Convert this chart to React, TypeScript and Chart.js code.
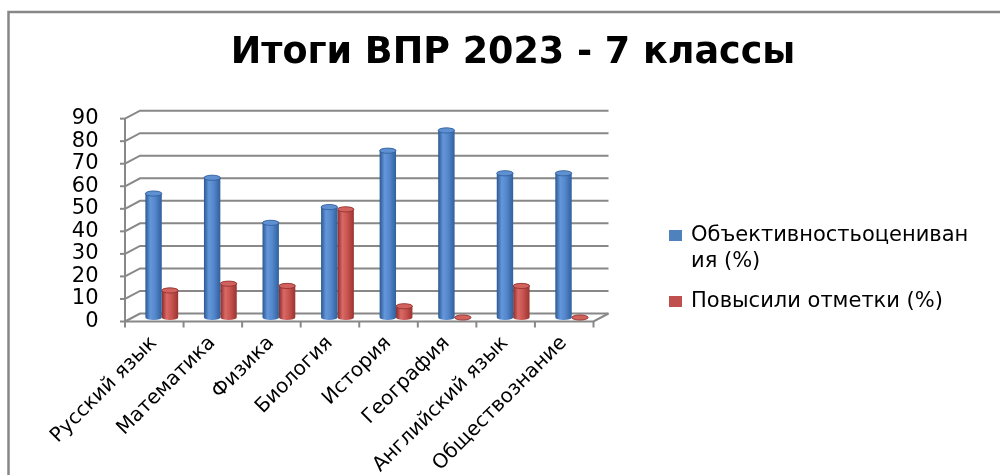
import React, { useEffect, useRef } from 'react';
import { Chart, registerables } from 'chart.js';

Chart.register(...registerables);

// ---- data ----
const titleText = 'Итоги ВПР 2023 - 7 классы';
const categories = [
  'Русский язык',
  'Математика',
  'Физика',
  'Биология',
  'История',
  'География',
  'Английский язык',
  'Обществознание',
];
const seriesNames = ['Объективностьоценивания (%)', 'Повысили отметки (%)'];
const legendLines = [['Объективностьоцениван', 'ия (%)'], ['Повысили отметки (%)']];
const objectivity = [55, 62, 42, 49, 74, 83, 64, 64];
const raised = [12, 15, 14, 48, 5, 0, 14, 0];
const yMin = 0;
const yMax = 90;
const yStep = 10;

// ---- style ----
const FONT = '"DejaVu Sans", sans-serif';
const GRID = '#888888';
const DX = 7.5;
const DY = 4;
const palettes = [
  { base: '#4F81BD', edge: '#2b5891', light: '#6396da', mid: '#5487cb', dark: '#30609c', top: '#5e90d2', rim: '#2f5d96' },
  { base: '#C0504D', edge: '#8c2a28', light: '#d86a66', mid: '#c9534f', dark: '#9a3431', top: '#d1625e', rim: '#8e2d2b' },
];

function drawCylinder(ctx: CanvasRenderingContext2D, x: number, y: number, base: number, w: number, p: any) {
  const l = x - w / 2;
  const r = x + w / 2;
  const rx = w / 2;
  const ry = 2.6;
  const g = ctx.createLinearGradient(l, 0, r, 0);
  g.addColorStop(0, p.edge);
  g.addColorStop(0.3, p.light);
  g.addColorStop(0.6, p.mid);
  g.addColorStop(1, p.dark);
  ctx.beginPath();
  ctx.moveTo(l, y);
  ctx.lineTo(l, base);
  ctx.ellipse(x, base, rx, ry, 0, Math.PI, 0, true);
  ctx.lineTo(r, y);
  ctx.ellipse(x, y, rx, ry, 0, 0, Math.PI, true);
  ctx.closePath();
  ctx.fillStyle = g;
  ctx.fill();
  ctx.beginPath();
  ctx.ellipse(x, y, rx, ry, 0, 0, Math.PI * 2);
  ctx.fillStyle = p.top;
  ctx.fill();
  ctx.lineWidth = 0.8;
  ctx.strokeStyle = p.rim;
  ctx.stroke();
}

const framePlugin = {
  id: 'frame3d',
  beforeDraw(chart: any) {
    const { ctx } = chart;
    ctx.save();
    ctx.fillStyle = '#ffffff';
    ctx.fillRect(0, 0, chart.width, chart.height);
    ctx.strokeStyle = '#878787';
    ctx.lineWidth = 2.5;
    ctx.beginPath();
    ctx.moveTo(8.5, chart.height + 5);
    ctx.lineTo(8.5, 12);
    ctx.lineTo(chart.width + 5, 12);
    ctx.stroke();
    ctx.restore();
  },
  beforeDatasetsDraw(chart: any) {
    const { ctx, chartArea: a, scales } = chart;
    const y = scales.y;
    ctx.save();
    ctx.strokeStyle = GRID;
    ctx.lineWidth = 2;
    y.ticks.forEach((t: any) => {
      const py = y.getPixelForValue(t.value);
      ctx.beginPath();
      ctx.moveTo(a.left - DX, py + DY);
      ctx.lineTo(a.left + DX, py - DY);
      ctx.lineTo(a.right + DX, py - DY);
      ctx.stroke();
      ctx.beginPath();
      ctx.moveTo(a.left - DX - 5, py + DY);
      ctx.lineTo(a.left - DX, py + DY);
      ctx.stroke();
    });
    const top = y.getPixelForValue(yMax);
    const bot = y.getPixelForValue(yMin);
    ctx.beginPath();
    ctx.moveTo(a.left - DX, top + DY);
    ctx.lineTo(a.left - DX, bot + DY);
    ctx.lineTo(a.right - DX, bot + DY);
    ctx.lineTo(a.right + DX, bot - DY);
    ctx.stroke();
    const n = categories.length;
    const cw = (a.right - a.left) / n;
    for (let i = 0; i <= n; i++) {
      const px = a.left - DX + i * cw;
      ctx.beginPath();
      ctx.moveTo(px, bot + DY);
      ctx.lineTo(px, bot + DY + 6);
      ctx.stroke();
    }
    ctx.restore();
  },
  beforeDatasetDraw(chart: any, args: any) {
    const { ctx } = chart;
    const p = palettes[args.index];
    ctx.save();
    args.meta.data.forEach((el: any) => {
      const { x, y, base, width } = el.getProps(['x', 'y', 'base', 'width'], true);
      drawCylinder(ctx, x, y, base, width, p);
    });
    ctx.restore();
    return false;
  },
  afterDraw(chart: any) {
    const { ctx } = chart;
    ctx.save();
    // title
    ctx.fillStyle = '#000';
    ctx.font = `bold 36.5px ${FONT}`;
    ctx.textAlign = 'center';
    ctx.textBaseline = 'middle';
    ctx.fillText(titleText, 513, 54);
    // legend
    ctx.font = `21px ${FONT}`;
    ctx.textAlign = 'left';
    const items = [
      { y: 236, color: palettes[0].base, lines: legendLines[0] },
      { y: 302, color: palettes[1].base, lines: legendLines[1] },
    ];
    items.forEach((it) => {
      ctx.fillStyle = it.color;
      ctx.fillRect(669, it.y - 6, 13, 11);
      ctx.fillStyle = '#000';
      it.lines.forEach((ln, i) => ctx.fillText(ln, 691, it.y + i * 26));
    });
    ctx.restore();
  },
};

export default function App() {
  const ref = useRef<HTMLCanvasElement | null>(null);
  useEffect(() => {
    document.body.style.margin = '0';
    const canvas = ref.current;
    if (!canvas) return;
    const chart = new Chart(canvas, {
      type: 'bar',
      data: {
        labels: categories,
        datasets: [
          { label: seriesNames[0], data: objectivity, backgroundColor: palettes[0].base },
          { label: seriesNames[1], data: raised, backgroundColor: palettes[1].base },
        ],
      },
      options: {
        responsive: false,
        animation: false,
        layout: { padding: { top: 114.65, right: 399, bottom: 0, left: 0 } },
        datasets: { bar: { categoryPercentage: 0.56, barPercentage: 1 } },
        plugins: {
          legend: { display: false },
          title: { display: false },
          tooltip: { enabled: false },
        },
        scales: {
          x: {
            grid: { display: false, drawTicks: false },
            border: { display: false },
            ticks: {
              autoSkip: false,
              minRotation: 45,
              maxRotation: 45,
              padding: 14,
              labelOffset: -8,
              color: '#000',
              font: { family: FONT, size: 20 },
            },
            afterFit: (s: any) => {
              s.height = 157.5;
            },
          },
          y: {
            min: yMin,
            max: yMax,
            grid: { display: false, drawTicks: false },
            border: { display: false },
            ticks: {
              autoSkip: false,
              stepSize: yStep,
              padding: 34,
              labelOffset: 4,
              color: '#000',
              font: { family: FONT, size: 21 },
            },
            afterFit: (s: any) => {
              s.width = 132.5;
            },
          },
        },
      },
      plugins: [framePlugin],
    });
    return () => chart.destroy();
  }, []);
  return <canvas ref={ref} width={1000} height={475} style={{ display: 'block' }} />;
}
